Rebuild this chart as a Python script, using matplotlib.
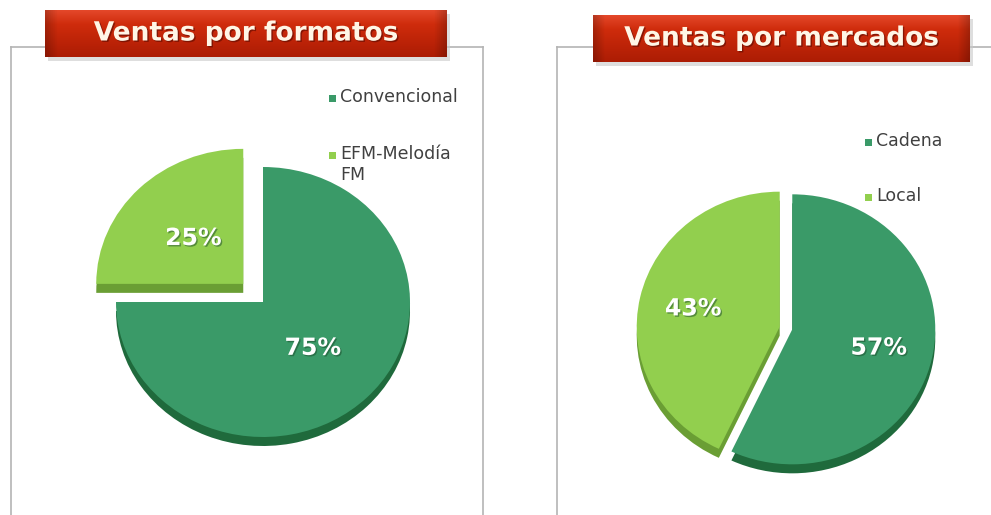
import numpy as np
import matplotlib
matplotlib.use("Agg")
import matplotlib.pyplot as plt
import matplotlib.patheffects as pe
from matplotlib.patches import Rectangle
from matplotlib.colors import to_rgb

# datos
titulos = ["Ventas por formatos", "Ventas por mercados"]
formatos = ["Convencional", "EFM-Melodía\nFM"]
ventas_formatos = [75, 25]
mercados = ["Cadena", "Local"]
ventas_mercados = [57, 43]

verde_oscuro = "#3a9a68"
verde_claro = "#92cf4e"
lado_oscuro = "#1f6a3c"
lado_claro = "#6a9e34"

W, H = 991, 515
fig = plt.figure(figsize=(W / 100, H / 100), dpi=100)


def px_axes(x0, y0, x1, y1):
    # ejes colocados en pixeles (origen arriba a la izquierda)
    return fig.add_axes([x0 / W, 1 - y1 / H, (x1 - x0) / W, (y1 - y0) / H])


# marcos grises de cada panel
for (x0, x1, lados) in [(11, 483, ("left", "right", "top")), (557, 1100, ("left", "top"))]:
    marco = px_axes(x0, 47, x1, 560)
    marco.set_xticks([])
    marco.set_yticks([])
    marco.patch.set_alpha(0)
    for nombre, sp in marco.spines.items():
        sp.set_visible(nombre in lados)
        sp.set_color("#b4b4b4")
        sp.set_linewidth(1.2)


def dibujar_pie(cx, cy, rx, ry, valores, explode, pctdist):
    lim = 1.3
    ax = px_axes(cx - lim * rx, cy - lim * ry, cx + lim * rx, cy + lim * ry)
    prof = 9 / ry
    # cara lateral (efecto 3D)
    ax.pie(valores, explode=explode, colors=[lado_oscuro, lado_claro], startangle=90,
           counterclock=False, center=(0, -prof), wedgeprops=dict(linewidth=0))
    _, textos, pcts = ax.pie(valores, explode=explode, colors=[verde_oscuro, verde_claro],
                             startangle=90, counterclock=False,
                             autopct=lambda p: f"{p:.0f}%", pctdistance=pctdist,
                             wedgeprops=dict(linewidth=0),
                             textprops=dict(color="white", fontsize=17, fontweight="heavy"))
    for t in pcts:
        t.set_path_effects([pe.withSimplePatchShadow(offset=(1, -1), shadow_rgbFace="#1a4a2a", alpha=0.5)])
    ax.set_aspect("auto")
    ax.set_xlim(-lim, lim)
    ax.set_ylim(-lim, lim)
    ax.axis("off")
    return ax


dibujar_pie(263, 302, 147, 135, ventas_formatos, [0, 0.19], 0.48)
dibujar_pie(786, 328, 143, 135, ventas_mercados, [0.045, 0.045], 0.62)

# leyendas
ley = fig.add_axes([0, 0, 1, 1])
ley.set_xlim(0, W)
ley.set_ylim(H, 0)
ley.axis("off")
ley.patch.set_alpha(0)


def leyenda(x, ys, etiquetas):
    for y, etq, col in zip(ys, etiquetas, [verde_oscuro, verde_claro]):
        ley.add_patch(Rectangle((x, y - 3.5), 7, 7, color=col, lw=0))
        ley.text(x + 11, y - 10, etq, fontsize=12.5, color="#404040", va="top", ha="left",
                 linespacing=1.25)


leyenda(329, [98, 155], formatos)
leyenda(865, [142, 197], mercados)


# banners de titulo
def banner(x0, y0, x1, y1, texto):
    ley.add_patch(Rectangle((x0 + 3, y0 + 4), x1 - x0, y1 - y0, color="#c8c8c8", alpha=0.6, lw=0))
    bx = px_axes(x0, y0, x1, y1)
    n = 60
    arriba, medio, abajo = np.array(to_rgb("#e4482a")), np.array(to_rgb("#cf2c0c")), np.array(to_rgb("#ac1c04"))
    t = np.linspace(0, 1, n)[:, None]
    grad = np.where(t < 0.3, arriba + (medio - arriba) * (t / 0.3),
                    medio + (abajo - medio) * ((t - 0.3) / 0.7))
    img = np.repeat(grad[:, None, :], 200, axis=1)
    u = np.linspace(0, 1, 200)
    borde = 1 - 0.2 * np.clip(1 - np.minimum(u, 1 - u) / 0.03, 0, 1)
    img = img * borde[None, :, None]
    bx.imshow(img, aspect="auto", extent=[0, 1, 0, 1])
    bx.axis("off")
    bx.text(0.5, 0.5, texto, ha="center", va="center", fontsize=19, fontweight="bold",
            color="#fff6e6", transform=bx.transAxes,
            path_effects=[pe.withSimplePatchShadow(offset=(1, -1), shadow_rgbFace="#5a0a00", alpha=0.6)])


banner(45, 10, 447, 57, titulos[0])
banner(593, 15, 970, 62, titulos[1])

fig.savefig("out.png", dpi=100)
